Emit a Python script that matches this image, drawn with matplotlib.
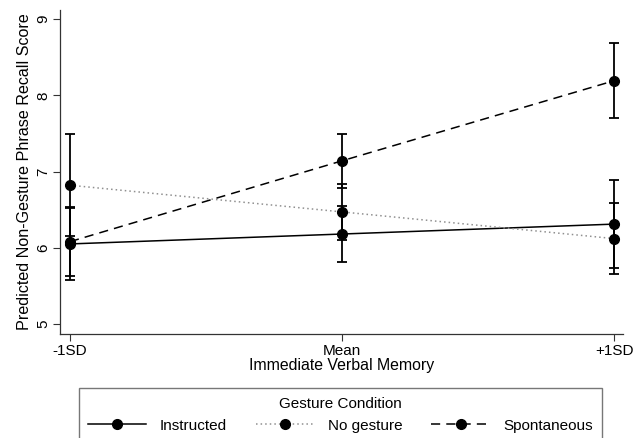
import matplotlib.pyplot as plt
import numpy as np

plt.rcParams['font.family'] = ['Liberation Sans', 'DejaVu Sans']

# x categories
x_labels = ['-1SD', 'Mean', '+1SD']
x = np.arange(len(x_labels))

# predicted scores and CI half-widths
instructed = [6.05, 6.18, 6.31]
instructed_err = [0.47, 0.37, 0.58]
no_gesture = [6.82, 6.47, 6.12]
no_gesture_err = [0.67, 0.37, 0.47]
spontaneous = [6.08, 7.14, 8.19]
spontaneous_err = [0.45, 0.35, 0.49]

fig = plt.figure(figsize=(6.44, 4.38), dpi=100)
ax = fig.add_axes([60/644, 1-334/438, (623-60)/644, (334-10)/438])

# error bars first, then lines on top
for y, e in [(instructed, instructed_err), (no_gesture, no_gesture_err), (spontaneous, spontaneous_err)]:
    ax.errorbar(x, y, yerr=e, fmt='none', ecolor='black', elinewidth=1.3, capsize=3.5, capthick=1.3)

h1, = ax.plot(x, instructed, color='black', lw=1.1, ls='-', marker='o', ms=7, label='Instructed')
h2, = ax.plot(x, no_gesture, color='#909090', lw=1.1, ls=(0, (1, 2)), marker='o', ms=7,
              mfc='black', mec='black', label='No gesture')
h3, = ax.plot(x, spontaneous, color='black', lw=1.1, ls=(0, (6, 4)), marker='o', ms=7, label='Spontaneous')

ax.set_xlim(-10/272, 2+9/272)
ax.set_ylim(5-10/76.25, 9+9/76.25)
ax.set_xticks(x)
ax.set_xticklabels(x_labels)
ax.set_yticks([5, 6, 7, 8, 9])
for lab in ax.get_yticklabels():
    lab.set_rotation(90)
    lab.set_va('center')
ax.tick_params(labelsize=11, length=5, width=0.8, color='#333333', pad=2)
ax.spines['top'].set_visible(False)
ax.spines['right'].set_visible(False)
for s in ['left', 'bottom']:
    ax.spines[s].set_color('#333333')
    ax.spines[s].set_linewidth(0.9)

ax.set_xlabel('Immediate Verbal Memory', fontsize=11.4, labelpad=0)
ax.set_ylabel('Predicted Non-Gesture Phrase Recall Score', fontsize=11.6, labelpad=3)

leg = fig.legend(handles=[h1, h2, h3], loc='upper center', bbox_to_anchor=(340.5/644, 1-388/438),
                 ncol=3, title='Gesture Condition', fontsize=11, title_fontsize=11,
                 frameon=True, fancybox=False, edgecolor='#555555', handlelength=3.8,
                 columnspacing=1.9, borderpad=0.6, handletextpad=0.9, borderaxespad=0)
leg.get_frame().set_linewidth(1.0)

fig.savefig('out.png', dpi=100)
